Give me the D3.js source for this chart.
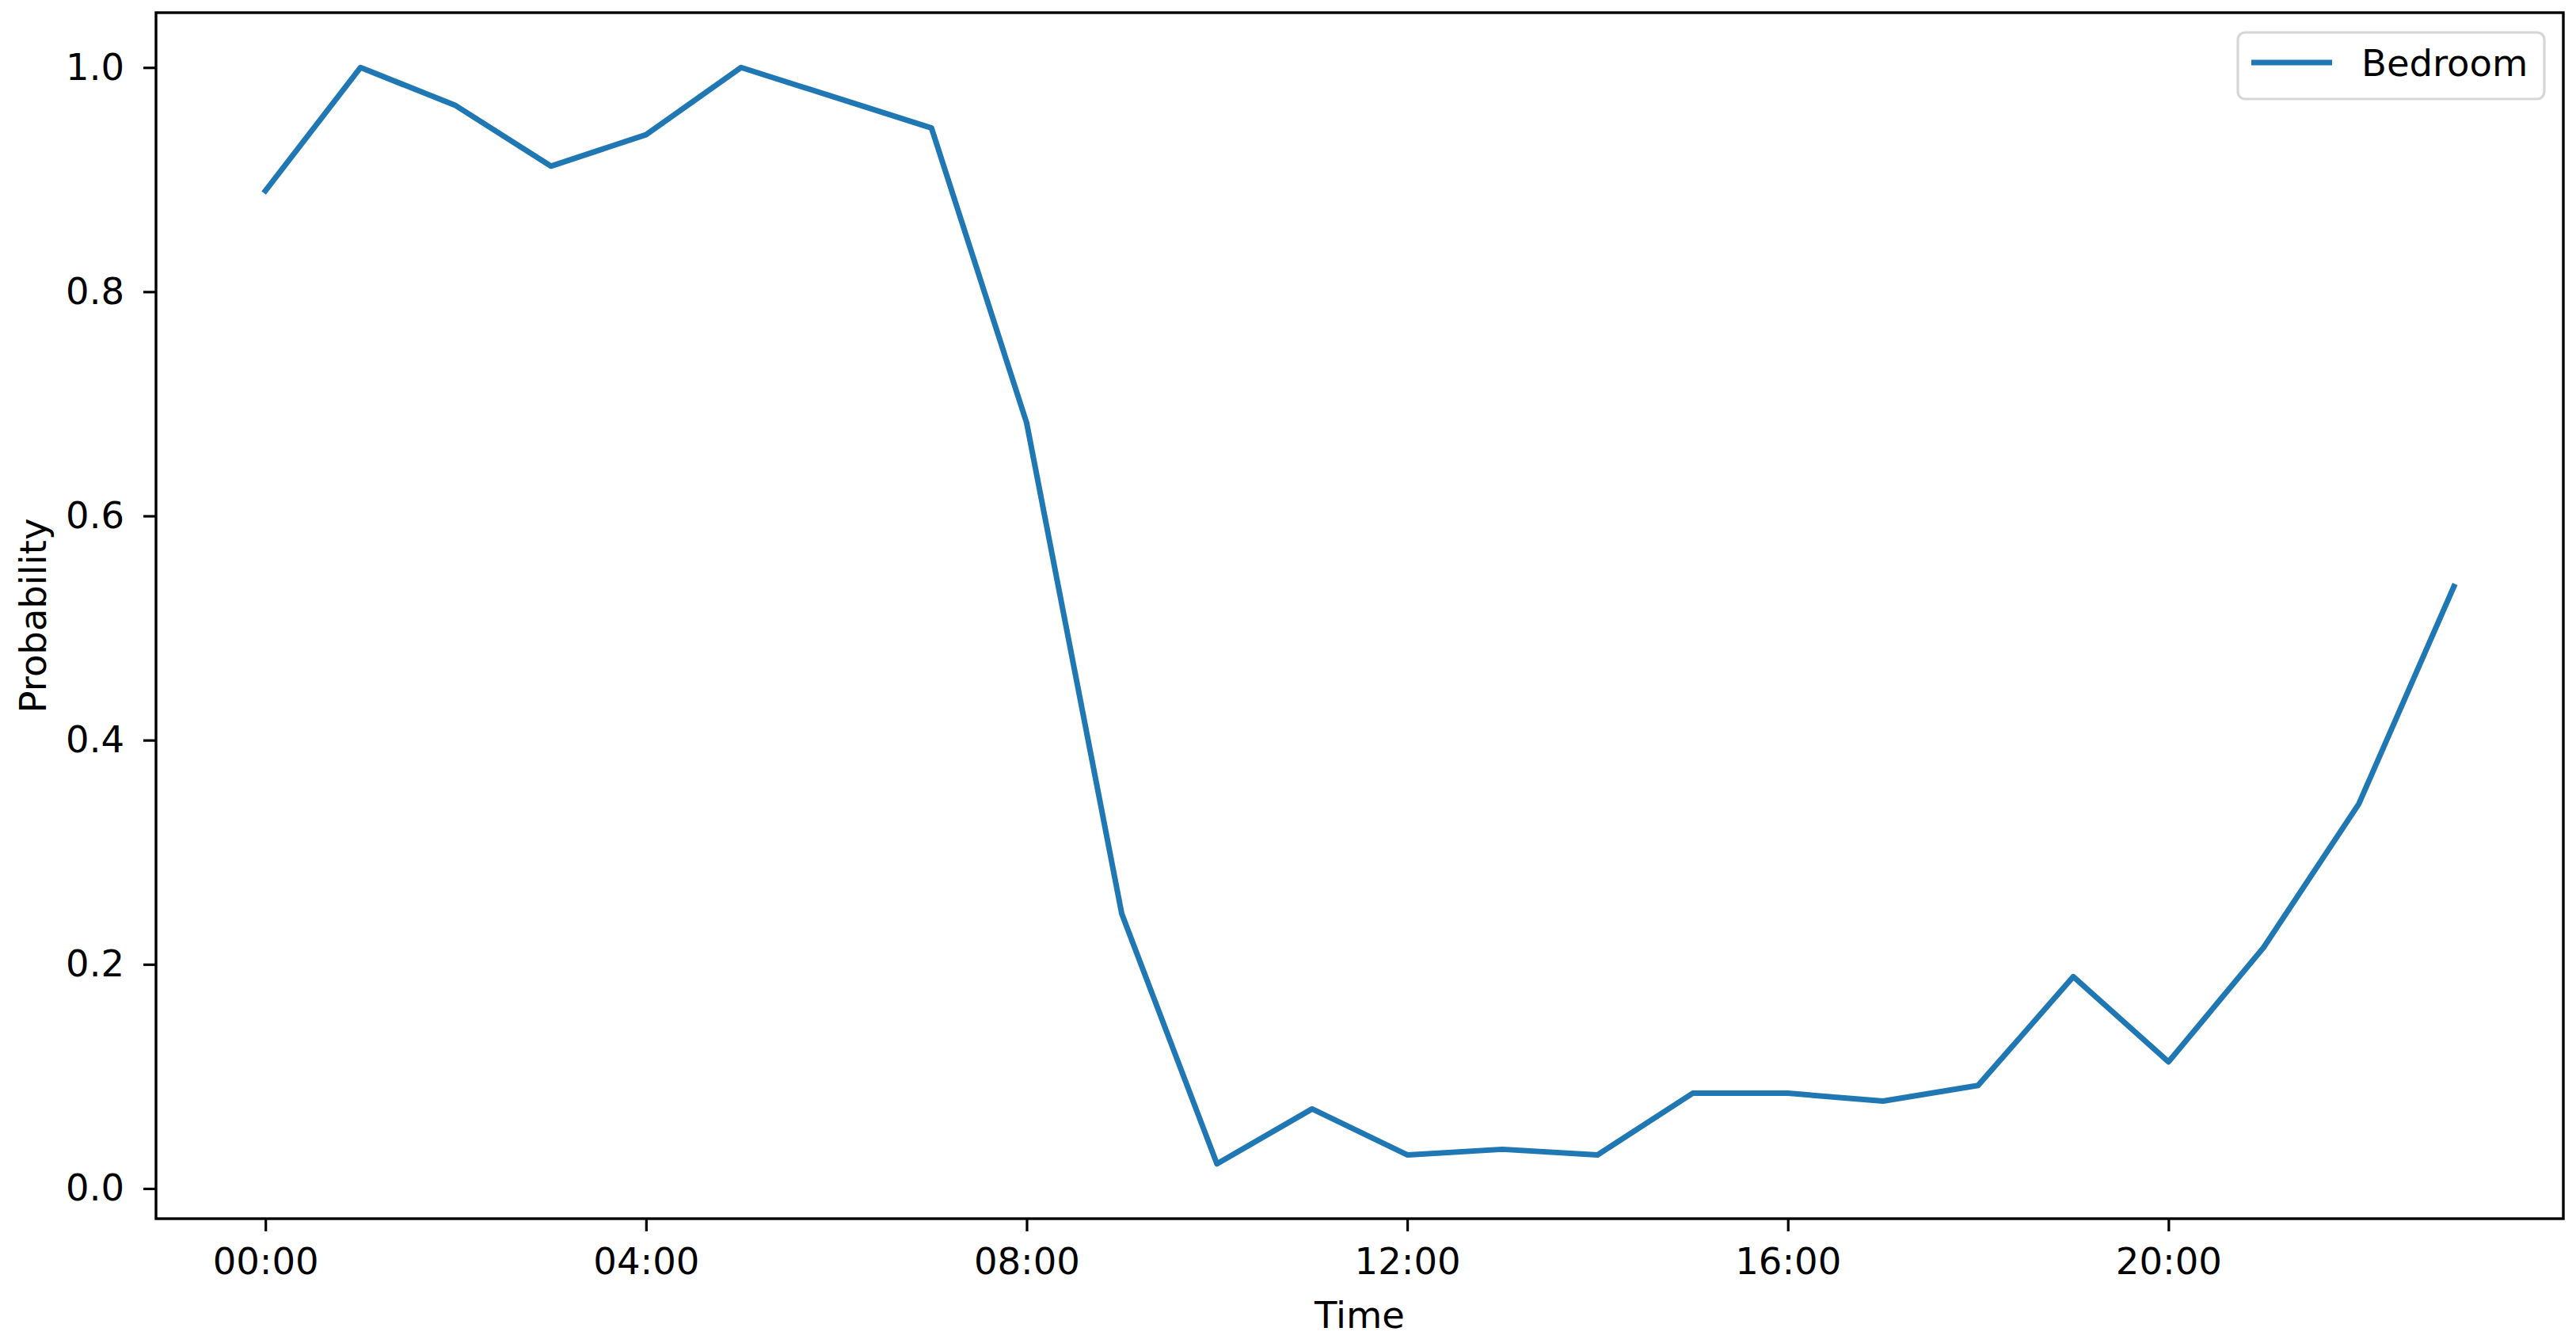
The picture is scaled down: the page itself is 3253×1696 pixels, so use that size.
<!DOCTYPE html>
<html>
<head>
<meta charset="utf-8">
<script src="https://cdn.jsdelivr.net/npm/d3@7"></script>
<style>
  body { margin: 0; background: #fff; }
  svg { display: block; font-family: "DejaVu Sans", sans-serif; }
</style>
</head>
<body>
<div id="chart"></div>
<script>
// hour of day (0-23) and the bedroom probability at each hour
const hours = [0, 1, 2, 3, 4, 5, 6, 7, 8, 9, 10, 11, 12, 13, 14, 15, 16, 17, 18, 19, 20, 21, 22, 23];
const bedroom = [0.890, 1.000, 0.966, 0.912, 0.940, 1.000, 0.973, 0.946, 0.683, 0.245, 0.022, 0.071,
                 0.030, 0.035, 0.030, 0.085, 0.085, 0.078, 0.092, 0.189, 0.113, 0.215, 0.343, 0.537];
const xTicks = [0, 4, 8, 12, 16, 20];
const xTickLabels = ["00:00", "04:00", "08:00", "12:00", "16:00", "20:00"];
const yTicks = [0.0, 0.2, 0.4, 0.6, 0.8, 1.0];
const seriesName = "Bedroom";

const width = 3253, height = 1696;
const plot = { left: 197, right: 3237, top: 16, bottom: 1539 };
const fontSize = 46.5;
const blue = "#1f77b4";

const svg = d3.select("#chart").append("svg")
  .attr("width", width)
  .attr("height", height);

// matplotlib-style 5% padding on both axes
const xExt = d3.extent(hours), yExt = d3.extent(bedroom);
const xPad = (xExt[1] - xExt[0]) * 0.05, yPad = (yExt[1] - yExt[0]) * 0.05;

const x = d3.scaleLinear()
  .domain([xExt[0] - xPad, xExt[1] + xPad])
  .range([plot.left, plot.right]);

const y = d3.scaleLinear()
  .domain([yExt[0] - yPad, yExt[1] + yPad])
  .range([plot.bottom, plot.top]);

// x axis
const xAxis = svg.append("g")
  .attr("transform", `translate(0,${plot.bottom})`)
  .call(d3.axisBottom(x)
    .tickValues(xTicks)
    .tickFormat((d, i) => xTickLabels[i])
    .tickSize(16)
    .tickSizeOuter(0)
    .tickPadding(21));

// y axis
const yAxis = svg.append("g")
  .attr("transform", `translate(${plot.left},0)`)
  .call(d3.axisLeft(y)
    .tickValues(yTicks)
    .tickFormat(d3.format(".1f"))
    .tickSize(16)
    .tickSizeOuter(0)
    .tickPadding(24));

[xAxis, yAxis].forEach(ax => {
  ax.select(".domain").remove();
  ax.selectAll(".tick line").attr("stroke", "#000").attr("stroke-width", 3.2);
  ax.selectAll(".tick text")
    .attr("fill", "#000")
    .attr("font-size", fontSize)
    .attr("font-family", "DejaVu Sans");
});

// the series line
const line = d3.line()
  .x((d, i) => x(hours[i]))
  .y(d => y(d));

svg.append("path")
  .datum(bedroom)
  .attr("d", line)
  .attr("fill", "none")
  .attr("stroke", blue)
  .attr("stroke-width", 7)
  .attr("stroke-linejoin", "round")
  .attr("stroke-linecap", "square");

// frame
svg.append("rect")
  .attr("x", plot.left)
  .attr("y", plot.top)
  .attr("width", plot.right - plot.left)
  .attr("height", plot.bottom - plot.top)
  .attr("fill", "none")
  .attr("stroke", "#000")
  .attr("stroke-width", 3.4);

// axis labels
svg.append("text")
  .attr("x", (plot.left + plot.right) / 2)
  .attr("y", 1677)
  .attr("text-anchor", "middle")
  .attr("font-size", fontSize)
  .attr("fill", "#000")
  .text("Time");

svg.append("text")
  .attr("transform", `translate(58,${(plot.top + plot.bottom) / 2}) rotate(-90)`)
  .attr("text-anchor", "middle")
  .attr("font-size", fontSize)
  .attr("fill", "#000")
  .text("Probability");

// legend
const legend = svg.append("g").attr("class", "legend");

legend.append("rect")
  .attr("x", 2826)
  .attr("y", 41)
  .attr("width", 3213 - 2826)
  .attr("height", 125 - 41)
  .attr("rx", 9)
  .attr("fill", "#fff")
  .attr("fill-opacity", 0.8)
  .attr("stroke", "#d6d6d6")
  .attr("stroke-width", 3.2);

legend.append("line")
  .attr("x1", 2843)
  .attr("x2", 2945)
  .attr("y1", 79)
  .attr("y2", 79)
  .attr("stroke", blue)
  .attr("stroke-width", 7);

legend.append("text")
  .attr("x", 2982)
  .attr("y", 96)
  .attr("font-size", fontSize)
  .attr("fill", "#000")
  .text(seriesName);
</script>
</body>
</html>
